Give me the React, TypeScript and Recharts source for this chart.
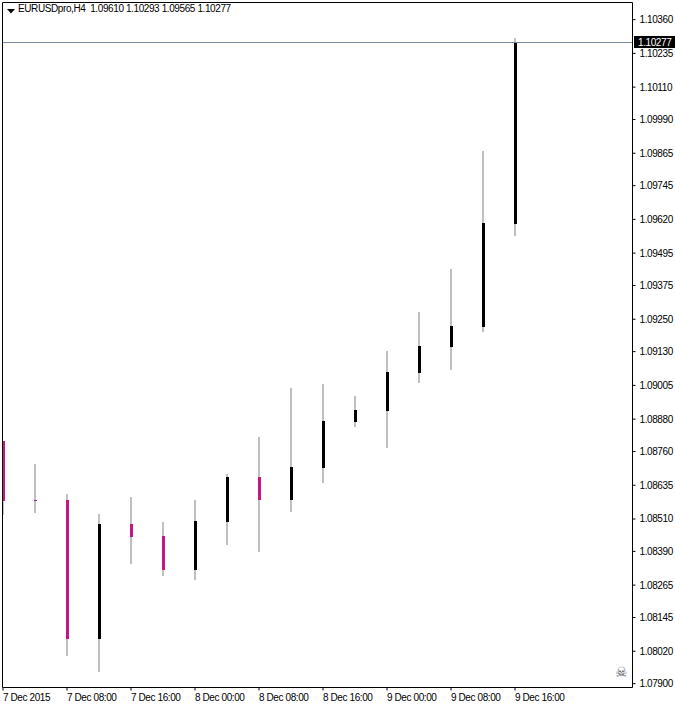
import React from "react";
import { ComposedChart, Bar, XAxis, YAxis, ReferenceLine } from "recharts";

const opens = [1.08798, 1.0858, 1.0858, 1.08065, 1.08491, 1.08446, 1.0832, 1.08498, 1.08665, 1.0858, 1.08698, 1.08869, 1.0891, 1.0905, 1.09147, 1.09221, 1.09602];
const highs = [1.08798, 1.08713, 1.08602, 1.08528, 1.08591, 1.08498, 1.0858, 1.08676, 1.08813, 1.08995, 1.0901, 1.08965, 1.09132, 1.09276, 1.09436, 1.09873, 1.10291];
const lows = [1.08524, 1.08532, 1.08002, 1.07943, 1.08343, 1.08298, 1.08283, 1.08413, 1.08387, 1.08535, 1.08643, 1.0885, 1.08773, 1.09013, 1.09062, 1.09202, 1.09558];
const closes = [1.08576, 1.08576, 1.08065, 1.08491, 1.08443, 1.0832, 1.08502, 1.08665, 1.0858, 1.08702, 1.08873, 1.08913, 1.09054, 1.0915, 1.09225, 1.09606, 1.10277];
const bearish = [true, true, true, false, true, true, false, false, true, false, false, false, false, false, false, false, false];

const priceTicks = [1.1036, 1.10235, 1.1011, 1.0999, 1.09865, 1.09745, 1.0962, 1.09495, 1.09375, 1.0925, 1.0913, 1.09005, 1.0888, 1.0876, 1.08635, 1.0851, 1.0839, 1.08265, 1.08145, 1.0802, 1.079];
const timeTicks = [0, 2, 4, 6, 8, 10, 12, 14, 16];
const timeLabels = ["7 Dec 2015", "7 Dec 08:00", "7 Dec 16:00", "8 Dec 00:00", "8 Dec 08:00", "8 Dec 16:00", "9 Dec 00:00", "9 Dec 08:00", "9 Dec 16:00"];
const lastPrice = 1.10277;
const header = "EURUSDpro,H4  1.09610 1.10293 1.09565 1.10277";

const rows = opens.map((open, i) => ({ i, open, high: highs[i], low: lows[i], close: closes[i], bear: bearish[i] }));

const FONT = "'Liberation Sans', Arial, sans-serif";
const TEXT_SPACING = "-0.4px";
const X_MIN = -0.015625;
const X_MAX = 19.671875;
const Y_MIN = 1.078857;
const Y_MAX = 1.104235;

function Candle(props: any) {
  const { x, y, width, height, payload } = props;
  const c = Math.round(x + width / 2);
  const span = payload.high - payload.low;
  const top = Math.max(payload.open, payload.close);
  const bottom = Math.min(payload.open, payload.close);
  const y0 = Math.round(y);
  const yEnd = Math.round(y + height);
  const y1 = Math.round(y + ((payload.high - top) / span) * height);
  const y2 = Math.round(y + ((payload.high - bottom) / span) * height);
  return (
    <g shapeRendering="crispEdges">
      <rect x={c - 1} y={y0} width={2} height={yEnd - y0} fill="#c0c0c0" />
      <rect x={c - 1} y={y1} width={3} height={Math.max(1, y2 - y1)} fill={payload.bear ? "#c71585" : "#000000"} />
    </g>
  );
}

function PriceTick(props: any) {
  const { x, y, payload } = props;
  return (
    <text x={x + 2} y={y + 3.5} fontFamily={FONT} fontSize={10} fill="#000" style={{ letterSpacing: TEXT_SPACING }}>
      {payload.value.toFixed(5)}
    </text>
  );
}

function TimeTick(props: any) {
  const { x, y, payload } = props;
  return (
    <text x={x} y={y + 8.5} fontFamily={FONT} fontSize={10} fill="#000" style={{ letterSpacing: TEXT_SPACING }}>
      {timeLabels[timeTicks.indexOf(payload.value)]}
    </text>
  );
}

function LastPriceLabel(props: any) {
  const { viewBox } = props;
  const yy = Math.round(viewBox.y);
  const right = viewBox.x + viewBox.width;
  return (
    <g shapeRendering="crispEdges">
      <rect x={right + 1.5} y={yy - 6} width={41} height={12} fill="#000" />
      <text x={right + 5.5} y={yy + 4} fontFamily={FONT} fontSize={10} fill="#fff" style={{ letterSpacing: TEXT_SPACING }}>
        {lastPrice.toFixed(5)}
      </text>
    </g>
  );
}

export default function App() {
  return (
    <div style={{ position: "absolute", left: 0, top: 0, width: 675, height: 705, background: "#fff" }}>
      <ComposedChart
        width={675}
        height={705}
        data={rows}
        margin={{ top: 2.5, right: 0, bottom: 0, left: 2.5 }}
      >
        <XAxis
          dataKey="i"
          type="number"
          domain={[X_MIN, X_MAX]}
          ticks={timeTicks}
          interval={0}
          height={17.5}
          stroke="#000"
          tickSize={3}
          tick={<TimeTick />}
          allowDataOverflow
        />
        <YAxis
          orientation="right"
          type="number"
          domain={[Y_MIN, Y_MAX]}
          ticks={priceTicks}
          interval={0}
          width={42.5}
          stroke="#000"
          tickSize={3}
          tick={<PriceTick />}
          allowDataOverflow
        />
        <Bar
          dataKey={(d: any) => [d.low, d.high]}
          barSize={3}
          shape={<Candle />}
          isAnimationActive={false}
        />
        <ReferenceLine
          y={lastPrice}
          stroke="#778899"
          strokeWidth={1}
          shapeRendering="crispEdges"
          label={<LastPriceLabel />}
        />
        <ReferenceLine x={X_MIN} stroke="#000" strokeWidth={1} ifOverflow="visible" />
        <ReferenceLine y={Y_MAX} stroke="#000" strokeWidth={1} ifOverflow="visible" />
      </ComposedChart>
      <svg style={{ position: "absolute", left: 7, top: 9 }} width={8} height={5}>
        <polygon points="0,0 8,0 4,4.5" fill="#000" />
      </svg>
      <div style={{ position: "absolute", left: 18, top: 2, fontFamily: FONT, fontSize: 10, letterSpacing: TEXT_SPACING, whiteSpace: "pre", lineHeight: "13px", color: "#000" }}>
        {header}
      </div>
      <div style={{ position: "absolute", left: 615, top: 664, fontFamily: "'DejaVu Sans'", fontSize: 14, lineHeight: "16px", color: "#556" }}>
        ☠
      </div>
    </div>
  );
}
